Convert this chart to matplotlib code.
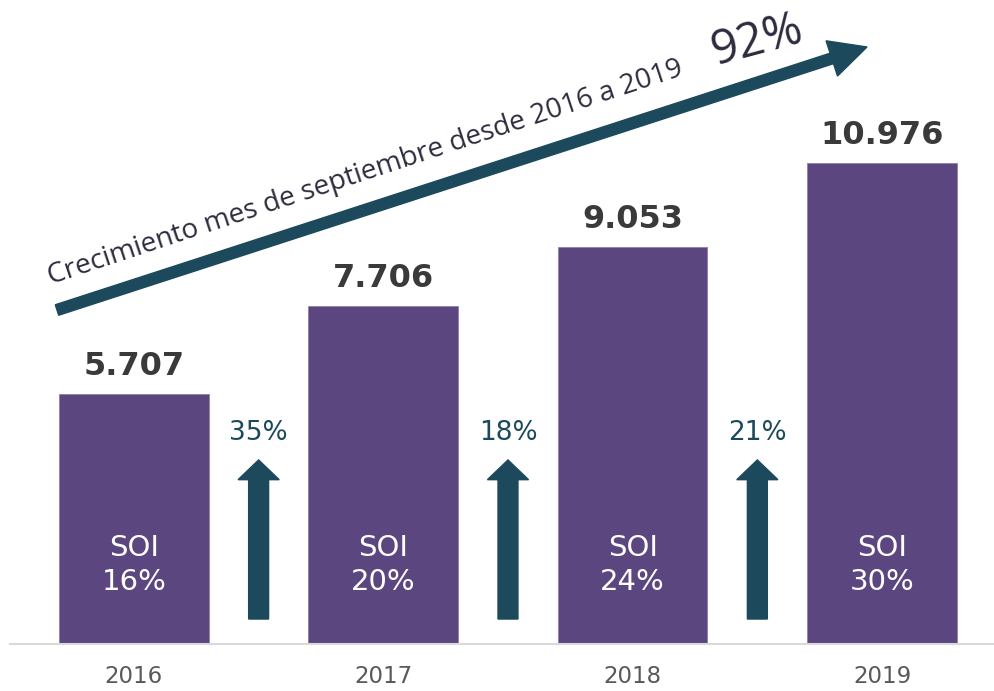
import matplotlib
matplotlib.use("Agg")
import matplotlib.pyplot as plt
from matplotlib.patches import FancyArrow
from matplotlib.transforms import IdentityTransform

# datos
anios = ["2016", "2017", "2018", "2019"]
valores = [5707, 7706, 9053, 10976]
etiquetas_valor = ["5.707", "7.706", "9.053", "10.976"]
soi = ["16%", "20%", "24%", "30%"]
crecimiento = ["35%", "18%", "21%"]
titulo_flecha = "Crecimiento mes de septiembre desde 2016 a 2019"
total = "92%"

MORADO = "#5b4680"
AZUL = "#1c4a5c"
TEXTO = "#2e2b3f"

fig = plt.figure(figsize=(9.95, 6.91), dpi=100)
ax = fig.add_axes([10 / 995, 1 - 644 / 691, 985 / 995, 644 / 691])
x = list(range(len(anios)))

ax.bar(x, valores, width=0.6, color=MORADO, edgecolor="#8e80ad", linewidth=0.6, zorder=2)
ax.set_xlim(-0.497, 3.453)
ax.set_ylim(0, 14697)

for s in ["top", "right", "left"]:
    ax.spines[s].set_visible(False)
ax.spines["bottom"].set_color("#d9d9d9")
ax.spines["bottom"].set_linewidth(1.5)
ax.set_yticks([])
ax.set_xticks(x)
ax.set_xticklabels(anios, fontsize=16.5, color="#595959")
ax.tick_params(axis="x", length=0, pad=15)

# valores sobre las barras y SOI dentro
for i, v in enumerate(valores):
    ax.annotate(etiquetas_valor[i], (i, v), xytext=(0, 12), textcoords="offset pixels",
                ha="center", va="bottom", fontsize=23, fontweight="bold", color="#3a3a3a")
    ax.text(i, 1800, "SOI\n" + soi[i], ha="center", va="center", fontsize=21,
            color="white", linespacing=1.28)

# flechas de crecimiento anual
for i, c in enumerate(crecimiento):
    xm = i + 0.5
    ax.add_patch(FancyArrow(xm, 570, 0, 3630, width=0.08, head_width=0.165,
                            head_length=450, length_includes_head=True,
                            color=AZUL, zorder=3))
    ax.text(xm, 4820, c, ha="center", va="center", fontsize=19, color=AZUL)

# flecha diagonal del crecimiento total
fig.add_artist(FancyArrow(57, 381, 810, 263, width=11, head_width=37, head_length=37,
                          length_includes_head=True, color=AZUL,
                          transform=IdentityTransform()))
fig.text(365, 691 - 173, titulo_flecha, transform=IdentityTransform(), rotation=18.3,
         rotation_mode="anchor", ha="center", va="center", fontsize=20.2,
         family="Open Sans", color=TEXTO)
fig.text(757, 691 - 41, total, transform=IdentityTransform(), rotation=15,
         rotation_mode="anchor", ha="center", va="center", fontsize=34,
         family="Open Sans", color=TEXTO)

fig.savefig("out.png", dpi=100)
